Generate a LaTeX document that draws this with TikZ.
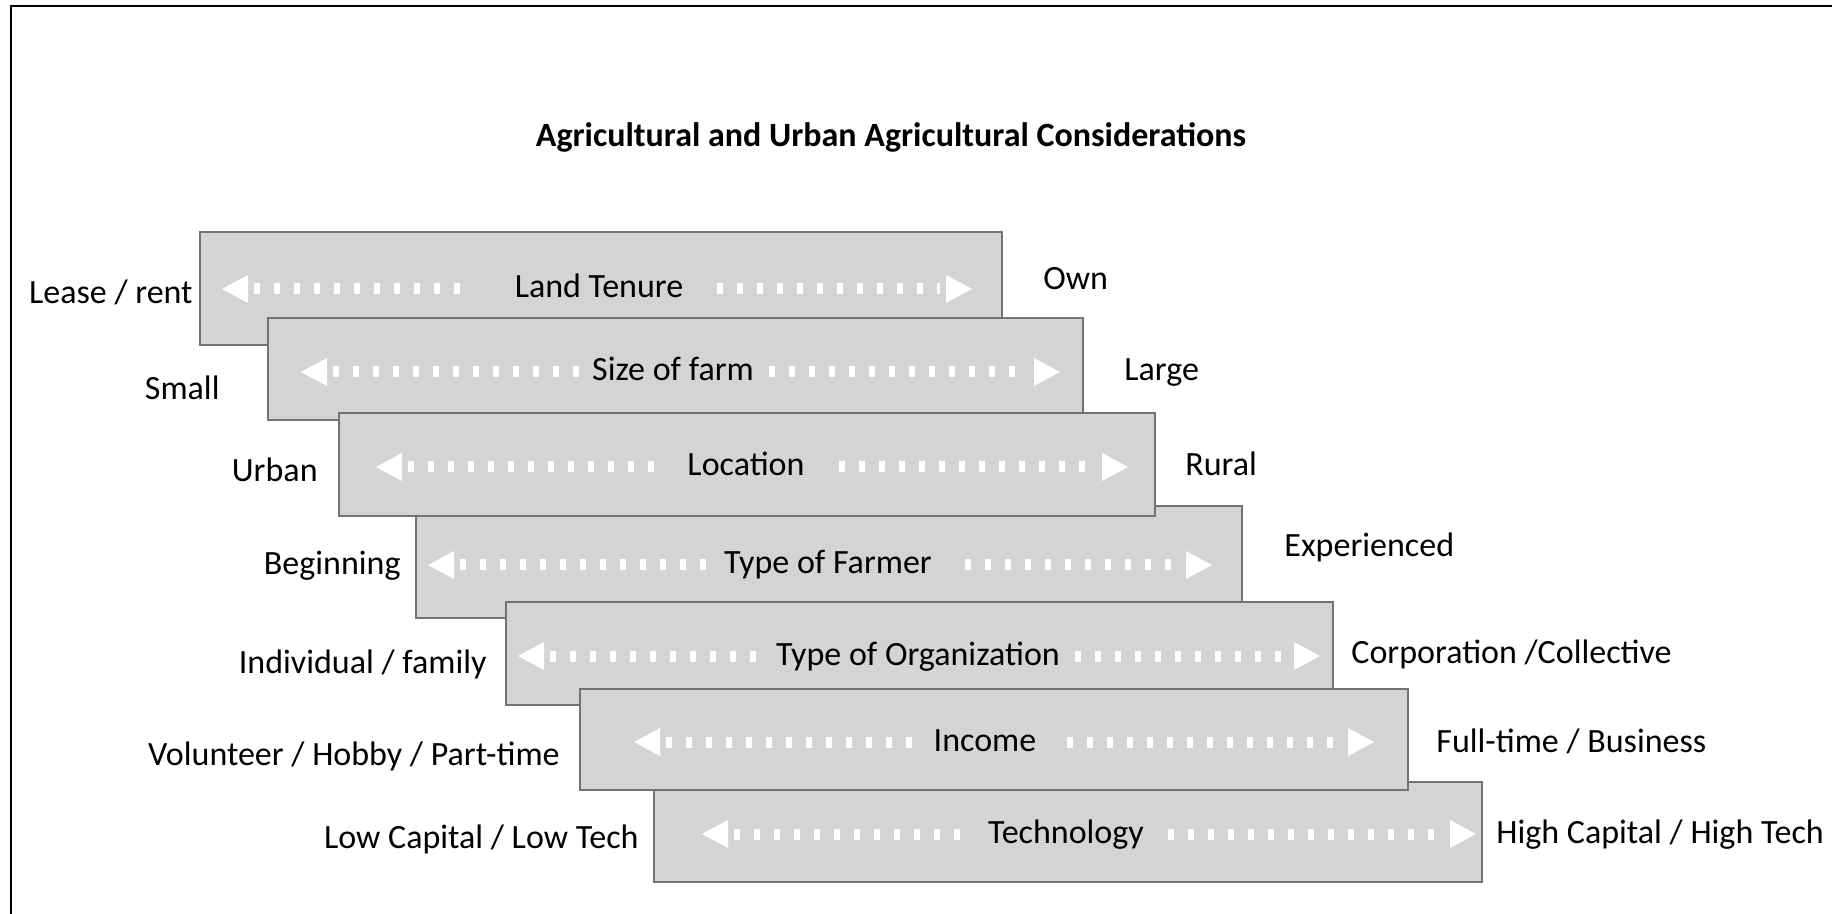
\documentclass[tikz,border=0pt]{standalone}
\usepackage{fontspec}
\setmainfont{Carlito}
\usetikzlibrary{calc}
\definecolor{boxfill}{HTML}{D4D4D4}
\definecolor{boxline}{HTML}{6F747C}
\newcommand\bandbox[5]{\draw[band] (#2,#3) rectangle (#4,#5); \coordinate (#1) at ({(#2+#4)/2},{(#3+#5)/2});}
% name, y, left tip, left dots end, right dots start, right tip
\newcommand\dotarrow[6]{%
  \coordinate (#1l) at (#3,#2); \coordinate (#1le) at (#4,#2);
  \coordinate (#1rs) at (#5,#2); \coordinate (#1r) at (#6,#2);
  \fill[white] (#1l) -- ++(26,-14) -- ++(0,28) -- cycle;
  \draw[dotline] ($(#1l)+(32,0)$) -- (#1le);
  \draw[dotline] (#1rs) -- ($(#1r)+(-32,0)$);
  \fill[white] (#1r) -- ++(-26,-14) -- ++(0,28) -- cycle;}
\begin{document}
\begin{tikzpicture}[x=0.5pt,y=-0.5pt,
  lbl/.style={font=\fontsize{17}{20}\selectfont, inner sep=0pt, yshift=-3.5pt},
  band/.style={fill=boxfill, draw=boxline, line width=0.7pt},
  dotline/.style={white, line width=5.5pt, dash pattern=on 3pt off 7pt}]
\useasboundingbox (0,0) rectangle (1832,914);
\fill[white] (0,0) rectangle (1832,914);
\draw[line width=1.25pt] (11,914) -- (11,6) -- (1832,6);

\node[lbl, font=\bfseries\fontsize{17}{20}\selectfont] (title) at (891,130) {Agricultural and Urban Agricultural Considerations};

% boxes (stacking order as in the reference)
\bandbox{b1}{200}{232}{1002}{345}
\bandbox{b2}{268}{318}{1083}{420}
\bandbox{b4}{416}{506}{1242}{618}
\bandbox{b3}{339}{413}{1155}{516}
\bandbox{b5}{506}{602}{1333}{705}
\bandbox{b7}{654}{782}{1482}{882}
\bandbox{b6}{580}{689}{1408}{790}

% arrows
\dotarrow{a1}{289}{222}{473}{717}{972}
\dotarrow{a2}{372}{301}{581}{769}{1060}
\dotarrow{a3}{467}{376}{667}{839}{1128}
\dotarrow{a4}{565}{428}{708}{965}{1212}
\dotarrow{a5}{656}{518}{762}{1075}{1320}
\dotarrow{a6}{742}{634}{918}{1067}{1374}
\dotarrow{a7}{834}{702}{972}{1168}{1476}

% centre labels
\node[lbl, anchor=mid] (t1) at (599,286) {Land Tenure};
\node[lbl, anchor=mid] (t2) at (673,369) {Size of farm};
\node[lbl, anchor=mid] (t3) at (746,464) {Location};
\node[lbl, anchor=mid] (t4) at (828,562) {Type of Farmer};
\node[lbl, anchor=mid] (t5) at (918,654) {Type of Organization};
\node[lbl, anchor=mid] (t6) at (985,740) {Income};
\node[lbl, anchor=mid] (t7) at (1066,832) {Technology};

% left labels
\node[lbl, anchor=mid east] (l1) at (193,292) {Lease / rent};
\node[lbl, anchor=mid east] (l2) at (220,388) {Small};
\node[lbl, anchor=mid east] (l3) at (318,470) {Urban};
\node[lbl, anchor=mid east] (l4) at (401,563) {Beginning};
\node[lbl, anchor=mid east] (l5) at (487,662) {Individual / family};
\node[lbl, anchor=mid east] (l6) at (560,754) {Volunteer / Hobby / Part-time};
\node[lbl, anchor=mid east] (l7) at (639,837) {Low Capital / Low Tech};

% right labels
\node[lbl, anchor=mid west] (r1) at (1043,278) {Own};
\node[lbl, anchor=mid west] (r2) at (1124,369) {Large};
\node[lbl, anchor=mid west] (r3) at (1185,464) {Rural};
\node[lbl, anchor=mid west] (r4) at (1284,545) {Experienced};
\node[lbl, anchor=mid west] (r5) at (1351,652) {Corporation /Collective};
\node[lbl, anchor=mid west] (r6) at (1436,741) {Full-time / Business};
\node[lbl, anchor=mid west] (r7) at (1496,832) {High Capital / High Tech};
\end{tikzpicture}
\end{document}
